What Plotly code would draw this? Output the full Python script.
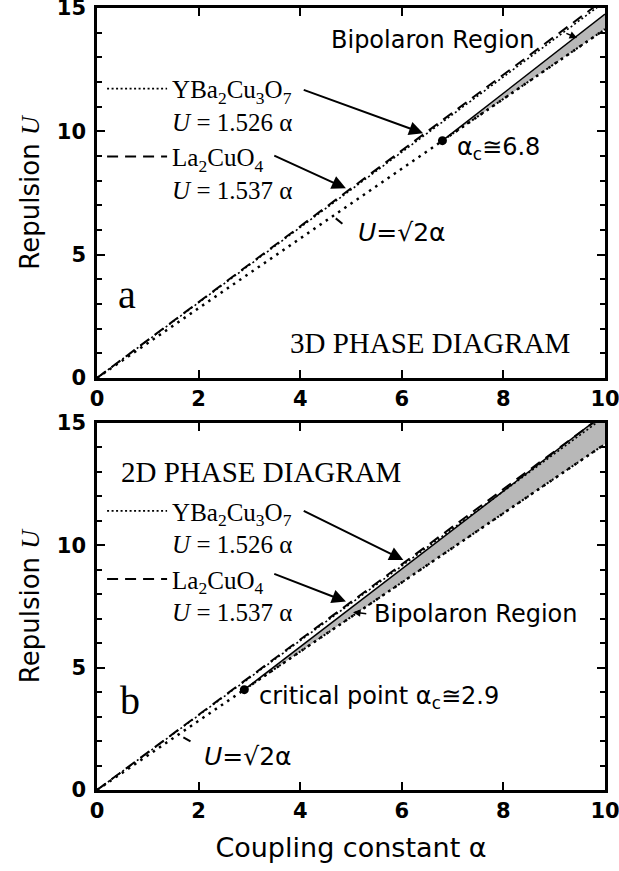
import plotly.graph_objects as go

# ---- data ----
alpha_ends = [0, 10]
U_sqrt2 = [0, 14.14]          # U = sqrt(2) alpha
U_ybco = [0, 15.26]           # YBa2Cu3O7, U = 1.526 alpha
U_lco = [0, 15.37]            # La2CuO4,  U = 1.537 alpha

alpha_region_3d = [6.8, 10]
U_region_3d_upper = [9.62, 14.75]
U_region_3d_lower = [9.62, 14.14]
crit_3d_alpha = [6.8]
crit_3d_U = [9.62]

alpha_region_2d = [2.9, 10]
U_region_2d_upper = [4.1, 15.4]
U_region_2d_lower = [4.1, 14.14]
crit_2d_alpha = [2.9]
crit_2d_U = [4.1]

x_ticks = [0, 2, 4, 6, 8, 10]
y_ticks = [0, 5, 10, 15]

SANS = "DejaVu Sans"
SERIF = "Liberation Serif"
GRAY = "#b8b8b8"

fig = go.Figure()

def add_panel(xa, ya, alpha_reg, up, lo, ca, cu, legend):
    # shaded bipolaron region
    fig.add_trace(go.Scatter(x=alpha_reg, y=lo, mode="lines", line=dict(color="black", width=2, dash="2px,4px"),
                             xaxis=xa, yaxis=ya, showlegend=False, hoverinfo="skip"))
    fig.add_trace(go.Scatter(x=alpha_reg, y=up, mode="lines", fill="tonexty", fillcolor=GRAY,
                             line=dict(color="black", width=1.5), xaxis=xa, yaxis=ya,
                             showlegend=False, hoverinfo="skip"))
    # sqrt(2) line
    fig.add_trace(go.Scatter(x=alpha_ends, y=U_sqrt2, mode="lines",
                             line=dict(color="black", width=2.5, dash="2.5px,5px"),
                             xaxis=xa, yaxis=ya, showlegend=False))
    # material lines
    fig.add_trace(go.Scatter(x=alpha_ends, y=U_ybco, mode="lines",
                             line=dict(color="black", width=1.6, dash="2px,2.5px"),
                             xaxis=xa, yaxis=ya, legend=legend,
                             name="YBa<sub>2</sub>Cu<sub>3</sub>O<sub>7</sub><br><i>U</i> = 1.526 α"))
    fig.add_trace(go.Scatter(x=alpha_ends, y=U_lco, mode="lines",
                             line=dict(color="black", width=2, dash="11px,7px"),
                             xaxis=xa, yaxis=ya, legend=legend,
                             name="La<sub>2</sub>CuO<sub>4</sub><br><i>U</i> = 1.537 α"))
    # critical point
    fig.add_trace(go.Scatter(x=ca, y=cu, mode="markers", marker=dict(color="black", size=9),
                             xaxis=xa, yaxis=ya, showlegend=False))

add_panel("x", "y", alpha_region_3d, U_region_3d_upper, U_region_3d_lower, crit_3d_alpha, crit_3d_U, "legend")
add_panel("x2", "y2", alpha_region_2d, U_region_2d_upper, U_region_2d_lower, crit_2d_alpha, crit_2d_U, "legend2")

tickfont = dict(family=SANS, size=21, color="black", weight="bold")
axis_common = dict(range=[0, 10], showline=True, linecolor="black", linewidth=2.5, mirror="ticks",
                   ticks="inside", ticklen=8, tickwidth=2, tickcolor="black",
                   tickvals=x_ticks, showgrid=False, zeroline=False, automargin=False,
                   ticklabeloverflow="allow", tickfont=tickfont, ticklabelstandoff=0)
yaxis_common = dict(range=[0, 15], showline=True, linecolor="black", linewidth=2.5, mirror="ticks",
                    ticks="inside", ticklen=8, tickwidth=2, tickcolor="black",
                    tickvals=y_ticks, showgrid=False, zeroline=False, automargin=False,
                    ticklabeloverflow="allow",
                    minor=dict(dtick=1, ticks="inside", ticklen=5, tickwidth=2, tickcolor="black", showgrid=False),
                    tickfont=tickfont, ticklabelstandoff=4,
                    title=dict(text="Repulsion <span style='font-family:Liberation Serif'><i>U</i></span>",
                               font=dict(family=SANS, size=26, color="black"), standoff=10))

fig.update_layout(
    width=619, height=871,
    margin=dict(l=97, r=14, t=8, b=81),
    paper_bgcolor="white", plot_bgcolor="white",
    xaxis=dict(axis_common, anchor="y"),
    yaxis=dict(yaxis_common, domain=[0.5269, 1.0], anchor="x"),
    xaxis2=dict(axis_common, anchor="y2",
                title=dict(text="Coupling constant α", font=dict(family=SANS, size=27, color="black"), standoff=17)),
    yaxis2=dict(yaxis_common, domain=[0.0, 0.4693], anchor="x2"),
    legend=dict(x=0.01, y=0.926, xanchor="left", yanchor="top", bgcolor="rgba(0,0,0,0)",
                font=dict(family=SERIF, size=25, color="black"), itemwidth=60, valign="top",
                traceorder="normal", tracegroupgap=0),
    legend2=dict(x=0.01, y=0.386, xanchor="left", yanchor="top", bgcolor="rgba(0,0,0,0)",
                 font=dict(family=SERIF, size=25, color="black"), itemwidth=60, valign="top",
                 traceorder="normal", tracegroupgap=0),
    showlegend=True,
)

ann = []
def txt(x, y, text, xr, yr, size=24, family=SANS, xanchor="center"):
    ann.append(dict(x=x, y=y, xref=xr, yref=yr, text=text, showarrow=False, xanchor=xanchor,
                    yanchor="middle", font=dict(family=family, size=size, color="black")))

def arrow(x0, y0, x1, y1, xr, yr, head=2, width=2, size=1.4):
    ann.append(dict(x=x1, y=y1, ax=x0, ay=y0, xref=xr, yref=yr, axref=xr, ayref=yr, text="",
                    showarrow=True, arrowhead=head, arrowsize=size, arrowwidth=width, arrowcolor="black",
                    standoff=0, startstandoff=0))

# top panel (3D)
txt(6.61, 13.70, "Bipolaron Region", "x", "y")
arrow(9.21, 14.0, 9.45, 13.78, "x", "y", head=2, width=1.5, size=1.0)
txt(7.05, 9.32, "α<sub>c</sub>≅6.8", "x", "y", xanchor="left")
txt(5.1, 5.88, "<i>U</i>=√2α", "x", "y", size=25, xanchor="left")
arrow(4.86, 6.2, 4.70, 6.47, "x", "y", head=0, width=2)
txt(0.59, 3.40, "a", "x", "y", size=40, family=SERIF)
txt(6.56, 1.40, "3D PHASE DIAGRAM", "x", "y", size=29, family=SERIF)
arrow(4.04, 11.70, 6.42, 9.92, "x", "y")
arrow(3.46, 9.04, 4.90, 7.69, "x", "y")

# bottom panel (2D)
txt(3.23, 12.98, "2D PHASE DIAGRAM", "x2", "y2", size=29, family=SERIF)
txt(5.41, 7.19, "Bipolaron Region", "x2", "y2", xanchor="left")
arrow(5.33, 7.2, 5.04, 7.27, "x2", "y2", head=2, width=1.5, size=1.0)
txt(3.15, 3.80, "critical point α<sub>c</sub>≅2.9", "x2", "y2", xanchor="left")
txt(0.65, 3.65, "b", "x2", "y2", size=40, family=SERIF)
txt(2.07, 1.35, "<i>U</i>=√2α", "x2", "y2", size=25, xanchor="left")
arrow(1.87, 1.95, 1.70, 2.15, "x2", "y2", head=0, width=2)
arrow(4.04, 11.44, 6.03, 9.40, "x2", "y2")
arrow(3.46, 8.86, 4.90, 7.70, "x2", "y2")

fig.update_layout(annotations=ann)
fig.write_html("out.html", config={"displayModeBar": False},
               post_script="document.body.style.margin='0px';")
